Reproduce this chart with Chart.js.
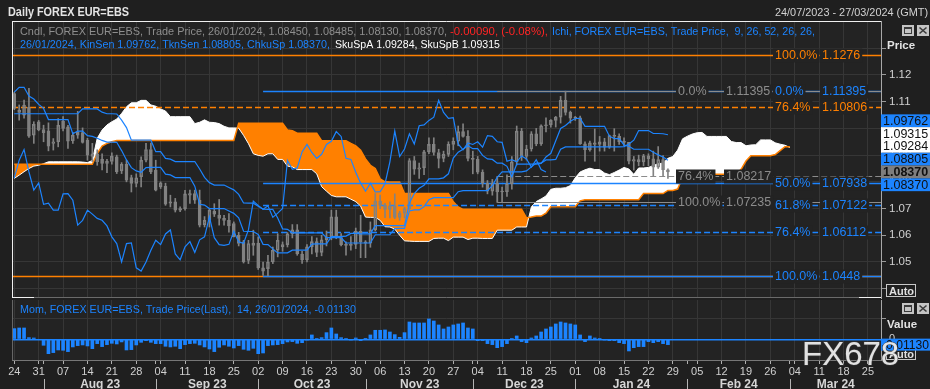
<!DOCTYPE html>
<html><head><meta charset="utf-8">
<script src="https://cdn.jsdelivr.net/npm/chart.js@4.4.1/dist/chart.umd.min.js"></script>
<style>
html,body{margin:0;padding:0;background:#1f1f1f;width:930px;height:389px;overflow:hidden}
#c1{position:absolute;left:0;top:0;width:930px;height:312px}
#c2{position:absolute;left:0;top:298px;width:930px;height:91px}
</style></head><body>
<canvas id="c1" width="930" height="312"></canvas>
<canvas id="c2" width="930" height="91"></canvas>
<script>
// ---------- DATA (trading-day index 0 = Mon 24/07/2023) ----------
const openP = [
1.1130,1.1060,1.1050,1.1079,1.0975,1.1025,1.0996,1.0991,1.0944,1.0950,
1.1027,1.1006,1.0954,1.0975,1.0984,1.0956,1.0895,1.0905,1.0885,1.0869,
1.0876,1.0894,1.0841,1.0866,1.0816,1.0794,1.0819,1.0881,1.0921,1.0844,
1.0781,1.0784,1.0725,1.0725,1.0700,1.0700,1.0750,1.0756,1.0731,1.0640,
1.0656,1.0690,1.0676,1.0663,1.0656,1.0644,1.0600,1.0575,1.0506,1.0562,
1.0571,1.0478,1.0475,1.0500,1.0544,1.0556,1.0565,1.0605,1.0620,1.0530,
1.0508,1.0557,1.0576,1.0536,1.0583,1.0594,1.0669,1.0591,1.0565,1.0562,
1.0566,1.0615,1.0575,1.0570,1.0620,1.0728,1.0712,1.0697,1.0710,1.0667,
1.0683,1.0700,1.0880,1.0847,1.0852,1.0912,1.0940,1.0910,1.0888,1.0903,
1.0940,1.0952,1.0988,1.0970,1.0888,1.0884,1.0836,1.0795,1.0765,1.0795,
1.0762,1.0763,1.0793,1.0875,1.0990,1.0895,1.0923,1.0980,1.0942,1.1010,
1.1013,1.1030,1.1042,1.1105,1.1060,1.1038,1.1040,1.0942,1.0920,1.0946,
1.0940,1.0950,1.0930,1.0973,1.0970,1.0950,1.0948,1.0877,1.0883,1.0875,
1.0897,1.0886,1.0855,1.0883,1.0845];
const highP = [
1.1135,1.1088,1.1106,1.1150,1.1025,1.1030,1.1012,1.1021,1.0962,1.1037,
1.1044,1.1012,1.0985,1.1064,1.1002,1.0963,1.0944,1.0920,1.0905,1.0884,
1.0909,1.0900,1.0872,1.0881,1.0825,1.0830,1.0894,1.0944,1.0945,1.0881,
1.0800,1.0795,1.0750,1.0738,1.0706,1.0768,1.0769,1.0769,1.0769,1.0670,
1.0700,1.0718,1.0734,1.0675,1.0681,1.0650,1.0611,1.0581,1.0581,1.0619,
1.0594,1.0500,1.0525,1.0556,1.0606,1.0575,1.0610,1.0640,1.0640,1.0540,
1.0565,1.0595,1.0590,1.0600,1.0616,1.0694,1.0694,1.0606,1.0575,1.0595,
1.0627,1.0675,1.0580,1.0650,1.0756,1.0750,1.0720,1.0725,1.0755,1.0690,
1.0705,1.0887,1.0895,1.0870,1.0918,1.0965,1.0965,1.0922,1.0915,1.0950,
1.0965,1.1009,1.1017,1.0992,1.0915,1.0895,1.0845,1.0805,1.0809,1.0820,
1.0780,1.0826,1.0895,1.1009,1.1000,1.0937,1.0988,1.1000,1.1013,1.1040,
1.1033,1.1045,1.1120,1.11395,1.1065,1.1045,1.1046,1.0950,1.0953,1.0998,
1.0970,1.0963,1.0975,1.0999,1.0980,1.0965,1.0948,1.0895,1.0900,1.0903,
1.0905,1.0915,1.0932,1.0898,1.08485];
const lowP = [
1.1070,1.1031,1.1038,1.0966,1.0944,1.0991,1.0950,1.0916,1.0919,1.0931,
1.0991,1.0925,1.0944,1.0963,1.0945,1.0881,1.0876,1.0862,1.0845,1.0834,
1.0866,1.0831,1.0831,1.0800,1.0762,1.0781,1.0781,1.0875,1.0831,1.0766,
1.0775,1.0712,1.0706,1.0687,1.0688,1.0694,1.0719,1.0719,1.0631,1.0631,
1.0631,1.0670,1.0638,1.0638,1.0612,1.0594,1.0560,1.0496,1.0494,1.0525,
1.0472,1.0450,1.0448,1.0494,1.0519,1.0540,1.0556,1.0590,1.0525,1.0495,
1.0500,1.0530,1.0520,1.0523,1.0560,1.0583,1.0587,1.0560,1.0525,1.0544,
1.0550,1.0516,1.0516,1.0555,1.0616,1.0700,1.0666,1.0665,1.0662,1.0656,
1.0665,1.0695,1.0828,1.0813,1.0827,1.0905,1.0900,1.0852,1.0875,1.0895,
1.0920,1.0935,1.0967,1.0878,1.0830,1.0830,1.0780,1.0755,1.0750,1.0723,
1.0725,1.0745,1.0773,1.0863,1.0880,1.0882,1.0915,1.0935,1.0936,1.0987,
1.1005,1.1005,1.1020,1.1050,1.1020,1.1030,1.0940,1.0877,1.0915,1.0877,
1.0915,1.0915,1.0925,1.0915,1.0940,1.0935,1.0867,1.0844,1.0860,1.0860,
1.0860,1.0822,1.0850,1.0821,1.0813];
const closeP = [
1.1075,1.1069,1.1087,1.0971,1.1015,1.0994,1.0984,1.0934,1.0950,1.1012,
1.1000,1.0952,1.0975,1.0985,1.0948,1.0900,1.0905,1.0875,1.0869,1.0878,
1.0896,1.0838,1.0866,1.0806,1.0794,1.0815,1.0881,1.0921,1.0837,1.0769,
1.0796,1.0716,1.0720,1.0694,1.0694,1.0755,1.0756,1.0731,1.0638,1.0656,
1.0694,1.0679,1.0663,1.0656,1.0635,1.0594,1.0569,1.0500,1.0569,1.0571,
1.0478,1.0466,1.0500,1.0544,1.0581,1.0565,1.0605,1.0620,1.0530,1.0508,
1.0557,1.0576,1.0536,1.0583,1.0594,1.0669,1.0591,1.0565,1.0562,1.0566,
1.0615,1.0575,1.0570,1.0620,1.0728,1.0712,1.0697,1.0710,1.0667,1.0683,
1.0700,1.0880,1.0847,1.0852,1.0912,1.0940,1.0910,1.0888,1.0903,1.0940,
1.0952,1.0988,1.0970,1.0888,1.0884,1.0836,1.0795,1.0765,1.0795,1.0762,
1.0763,1.0793,1.0875,1.0990,1.0895,1.0923,1.0980,1.0942,1.1010,1.1013,
1.1030,1.1042,1.1105,1.1060,1.1038,1.1040,1.0942,1.0920,1.0946,1.0940,
1.0950,1.0930,1.0973,1.0970,1.0950,1.0948,1.0877,1.0883,1.0875,1.0897,
1.0886,1.0855,1.0883,1.0846,1.0837];
const tenkanSen = [
1.1136,1.1154,1.1154,1.1121,1.1110,1.1090,1.1075,1.1033,1.1033,1.1033,
1.1033,1.1033,1.0980,1.0990,1.0990,1.0973,1.0970,1.0963,1.0955,1.0949,
1.0949,1.0948,1.0917,1.0882,1.0853,1.0841,1.0836,1.0853,1.0854,1.0854,
1.0854,1.0829,1.0826,1.0816,1.0816,1.0816,1.0816,1.0784,1.0716,1.0713,
1.0700,1.0700,1.0700,1.0700,1.0691,1.0682,1.0665,1.0615,1.0614,1.0614,
1.0603,1.0566,1.0565,1.0549,1.0534,1.0534,1.0534,1.0544,1.0544,1.0544,
1.0544,1.0567,1.0568,1.0568,1.0568,1.0595,1.0595,1.0595,1.0597,1.0607,
1.0607,1.0605,1.0605,1.0605,1.0636,1.0636,1.0636,1.0636,1.0636,1.0636,
1.0636,1.0721,1.0756,1.0776,1.0787,1.0811,1.0811,1.0811,1.0815,1.0830,
1.0889,1.0911,1.0922,1.0935,1.0924,1.0924,1.0899,1.0886,1.0884,1.0870,
1.0870,1.0858,1.0819,1.0866,1.0866,1.0866,1.0866,1.0866,1.0869,1.0893,
1.0907,1.0954,1.1000,1.1011,1.1027,1.1037,1.1038,1.1008,1.1008,1.1008,
1.1008,1.1008,1.0971,1.0962,1.0962,1.0938,1.0933,1.0922,1.0922,1.0922,
1.0922,1.0911,1.0901,1.0893,1.08805];
const kijunSen = [
1.1055,1.1055,1.1055,1.1055,1.1055,1.1055,1.1055,1.1055,1.1055,1.1055,
1.1055,1.1055,1.1055,1.1055,1.1073,1.1073,1.1073,1.1073,1.1061,1.1055,
1.1055,1.1054,1.1031,1.1003,1.0956,1.0956,1.0956,1.0956,1.0956,1.0913,
1.0913,1.0888,1.0885,1.0876,1.0876,1.0876,1.0876,1.0876,1.0848,1.0817,
1.0797,1.0788,1.0788,1.0788,1.0779,1.0770,1.0753,1.0721,1.0720,1.0720,
1.0709,1.0698,1.0697,1.0697,1.0665,1.0624,1.0622,1.0609,1.0609,1.0609,
1.0609,1.0609,1.0609,1.0609,1.0591,1.0591,1.0591,1.0591,1.0571,1.0571,
1.0571,1.0571,1.0571,1.0571,1.0602,1.0602,1.0602,1.0602,1.0625,1.0626,
1.0626,1.0691,1.0695,1.0695,1.0707,1.0733,1.0741,1.0741,1.0741,1.0741,
1.0741,1.0763,1.0767,1.0767,1.0767,1.0767,1.0767,1.0767,1.0786,1.0817,
1.0837,1.0837,1.0837,1.0837,1.0837,1.0841,1.0856,1.0870,1.0870,1.0882,
1.0882,1.0884,1.0922,1.0931,1.0931,1.0931,1.0931,1.0931,1.0931,1.0931,
1.0931,1.0931,1.0931,1.0931,1.0931,1.0932,1.0942,1.0956,1.0992,1.0992,
1.0992,1.0981,1.0981,1.0980,1.09762];
// Senkou spans, index = display position (26-day forward shift already applied)
const senkouA = [
1.0813,1.0825,1.0838,1.0850,1.0859,1.0862,1.0868,1.0875,1.0875,1.0875,
1.0875,1.0875,1.0875,1.0875,1.0874,1.0872,1.0880,1.0963,1.0994,1.1013,
1.1025,1.1035,1.1056,1.1081,1.1096,1.1096,1.1105,1.1105,1.1088,1.1083,
1.1073,1.1065,1.1044,1.1044,1.1044,1.1044,1.1044,1.1018,1.1023,1.1032,
1.1023,1.1022,1.1018,1.1008,1.1002,1.1002,1.1001,1.0974,1.0943,1.0905,
1.0899,1.0896,1.0905,1.0905,1.0884,1.0884,1.0859,1.0856,1.0846,1.0846,
1.0846,1.0846,1.0830,1.0782,1.0765,1.0749,1.0744,1.0744,1.0744,1.0735,
1.0726,1.0709,1.0668,1.0667,1.0667,1.0656,1.0632,1.0631,1.0623,1.0600,
1.0579,1.0578,1.0577,1.0577,1.0577,1.0577,1.0588,1.0589,1.0589,1.0580,
1.0593,1.0593,1.0593,1.0584,1.0589,1.0589,1.0588,1.0588,1.0588,1.0619,
1.0619,1.0619,1.0619,1.0631,1.0631,1.0631,1.0706,1.0726,1.0736,1.0747,
1.0772,1.0776,1.0776,1.0778,1.0786,1.0815,1.0837,1.0845,1.0851,1.0846,
1.0846,1.0833,1.0827,1.0835,1.0844,1.0854,1.0848,1.0828,1.0852,1.0852,
1.0854,1.0861,1.0868,1.0870,1.0888,1.0895,1.0919,1.0961,1.0971,1.0979,
1.0984,1.0985,1.0970,1.0970,1.0970,1.0970,1.0970,1.0951,1.0947,1.0947,
1.0935,1.0938,1.0939,1.0957,1.0957,1.0957,1.0946,1.0941,1.0937,1.09284];
const senkouB = [
1.0866,1.0866,1.0866,1.0866,1.0866,1.0866,1.0866,1.0866,1.0866,1.0866,
1.0866,1.0866,1.0866,1.0866,1.0866,1.0866,1.0866,1.0906,1.0934,1.0944,
1.0950,1.0955,1.0955,1.0955,1.0955,1.0955,1.0955,1.0955,1.0955,1.0955,
1.0955,1.0955,1.0955,1.0955,1.0955,1.0955,1.0955,1.0955,1.0955,1.0955,
1.0955,1.0955,1.0955,1.0955,1.0955,1.0955,1.1019,1.1019,1.1019,1.1019,
1.1019,1.1019,1.1019,1.1019,1.1019,1.1019,1.0994,1.0991,1.0982,1.0982,
1.0982,1.0982,1.0982,1.0954,1.0954,1.0954,1.0954,1.0954,1.0954,1.0944,
1.0935,1.0918,1.0886,1.0862,1.0850,1.0811,1.0800,1.0799,1.0799,1.0799,
1.0756,1.0756,1.0756,1.0756,1.0756,1.0756,1.0756,1.0756,1.0756,1.0756,
1.0725,1.0706,1.0697,1.0697,1.0697,1.0697,1.0697,1.0697,1.0697,1.0697,
1.0697,1.0697,1.0697,1.0697,1.0697,1.0665,1.0668,1.0672,1.0672,1.0683,
1.0707,1.0707,1.0707,1.0707,1.0707,1.0707,1.0729,1.0733,1.0733,1.0733,
1.0733,1.0733,1.0733,1.0733,1.0733,1.0733,1.0733,1.0733,1.0733,1.0756,
1.0756,1.0756,1.0756,1.0756,1.0768,1.0768,1.0773,1.0818,1.0828,1.0828,
1.0828,1.0828,1.0828,1.0828,1.0828,1.0828,1.0828,1.0828,1.0828,1.0847,
1.0878,1.0898,1.0898,1.0898,1.0898,1.0898,1.0902,1.0917,1.09315,1.09315];
const momentum14 = [
0.0226,0.0240,0.0240,0.0035,0.0028,0.0000,-0.0127,-0.0304,-0.0282,-0.0226,
-0.0233,-0.0261,-0.0162,-0.0134,-0.0120,-0.0141,-0.0198,-0.0092,-0.0155,-0.0113,
-0.0085,-0.0099,-0.0056,-0.0226,-0.0219,-0.0120,-0.0064,-0.0028,-0.0064,-0.0092,
-0.0092,-0.0148,-0.0162,-0.0148,-0.0198,-0.0113,-0.0092,-0.0085,-0.0120,-0.0162,
-0.0205,-0.0261,-0.0169,-0.0120,-0.0148,-0.0184,-0.0134,-0.0212,-0.0233,-0.0191,
-0.0304,-0.0290,-0.0134,-0.0120,-0.0113,-0.0092,-0.0056,-0.0049,-0.0085,-0.0071,
-0.0003,0.0092,0.0004,0.0035,0.0141,0.0240,0.0113,0.0035,0.0002,-0.0002,
0.0028,-0.0028,0.0021,0.0092,0.0191,0.0191,0.0198,0.0155,0.0099,0.0042,
0.0141,0.0367,0.0346,0.0346,0.0346,0.0431,0.0388,0.0304,0.0219,0.0261,
0.0304,0.0325,0.0346,0.0240,0.0219,-0.0028,-0.0028,-0.0092,-0.0113,-0.0177,
-0.0155,-0.0092,0.0003,0.0071,-0.0049,-0.0071,0.0028,0.0071,0.0155,0.0219,
0.0261,0.0325,0.0367,0.0346,0.0325,0.0304,0.0092,-0.0049,0.0071,0.0028,
0.0003,-0.0002,-0.0028,-0.0028,-0.0071,-0.0092,-0.0247,-0.0177,-0.0155,-0.0155,
-0.0049,-0.0071,-0.0049,-0.0092,-0.0113];
const chikouShift = 25;
// Fibonacci retracements
const orangeFibPct = ['100.0%','76.4%','0.0%'];
const orangeFibVal = [1.1276, 1.10806, 1.0448];
const blueFibPct = ['0.0%','50.0%','61.8%','76.4%','100.0%'];
const blueFibVal = [1.11395, 1.07938, 1.07122, 1.06112, 1.0448];
const blueFibStart = 51;
const grayFibPct = ['0.0%','76.4%','100.0%'];
const grayFibVal = [1.11395, 1.08217, 1.07235];
const grayFibStart = 99;
// axis labels
const priceTicks = [1.04,1.05,1.06,1.07,1.08,1.09,1.10,1.11,1.12,1.13];
const priceTickLabels = ['','1.05','1.06','1.07','1.08','1.09','1.10','1.11','1.12',''];
const momTicks = [0, 0.045];
const momTickLabels = ['0',''];
const dayTickLabels = ['24','31','07','14','21','28','04','11','18','25','02','09','16','23','30','06','13','20','27','04','11','18','25','01','08','15','22','29','05','12','19','26','04','11','18','25'];
const monthLabels = ['Aug 23','Sep 23','Oct 23','Nov 23','Dec 23','Jan 24','Feb 24','Mar 24'];
const monthStartDay = [6, 29, 50, 72, 94, 115, 138, 159];
const lastDate = '26/01/2024';

// ---------- STYLE ----------
const PAGE_BG = '#1f1f1f', PLOT_BG = '#232323', GRID = '#363636';
const BLUE = '#1c84ff', ORANGE = '#ff8000', CANDLE = '#828282', FIBGRAY = '#8c8c8c';
const FONT = '"Liberation Sans", Arial, sans-serif';
Chart.defaults.font.family = FONT;
const xMin = -0.4715, xMax = 177.68;
const yMin = 1.036511, yMax = 1.140217;
const momMin = -0.04386, momMax = 0.08326;
const mondayIdx = dayTickLabels.map((_, w) => w * 5);
const dateTickIdx = mondayIdx.concat(monthStartDay.filter(d => d % 5 !== 0)).sort((a, b) => a - b);
const N = closeP.length;
const last = N - 1;

function pts(arr, off) { return arr.map((v, i) => ({x: i + (off || 0), y: v})); }
function txt(ctx, s, x, y, color, font, maxW, align) {
  ctx.font = font; ctx.fillStyle = color; ctx.textAlign = align || 'left'; ctx.textBaseline = 'alphabetic';
  if (maxW) ctx.fillText(s, x, y, maxW); else ctx.fillText(s, x, y);
}
function icon(ctx, x, y, kind) {
  ctx.save();
  ctx.fillStyle = '#c4c4c4'; ctx.fillRect(x, y, 12, 11);
  ctx.strokeStyle = '#3a3a3a'; ctx.lineWidth = 1;
  if (kind === 'max') {
    ctx.strokeRect(x + 2.5, y + 2.5, 7, 6); ctx.fillStyle = '#3a3a3a'; ctx.fillRect(x + 2, y + 2, 8, 2);
  } else {
    ctx.lineWidth = 1.6; ctx.beginPath();
    ctx.moveTo(x + 2.5, y + 2.5); ctx.lineTo(x + 9.5, y + 8.5); ctx.moveTo(x + 9.5, y + 2.5); ctx.lineTo(x + 2.5, y + 8.5); ctx.stroke();
  }
  ctx.restore();
}
function autoBtn(ctx, x, y) {
  ctx.save(); ctx.strokeStyle = '#c8c8c8'; ctx.lineWidth = 1; ctx.strokeRect(x + 0.5, y + 0.5, 29, 12);
  txt(ctx, 'Auto', x + 3, y + 10.5, '#e0e0e0', 'bold 11px ' + FONT); ctx.restore();
}

const bgPlugin = {
  id: 'plotbg',
  beforeDraw(chart) {
    const {ctx, chartArea: a} = chart;
    ctx.save(); ctx.fillStyle = PLOT_BG; ctx.fillRect(a.left, a.top, a.right - a.left, a.bottom - a.top); ctx.restore();
  }
};

const fibSets = [
  {pcts: orangeFibPct, vals: orangeFibVal, start: null, color: ORANGE, w: 1.5, lx: 775, vx: 822},
  {pcts: blueFibPct, vals: blueFibVal, start: blueFibStart, color: BLUE, w: 1.5, lx: 775, vx: 822},
  {pcts: grayFibPct, vals: grayFibVal, start: grayFibStart, color: FIBGRAY, w: 1.2, lx: 678, vx: 726}
];
const isDashed = p => p === '61.8%' || p === '76.4%';

const fibLinePlugin = {
  id: 'fiblines',
  afterDatasetDraw(chart, args) {
    if (args.index !== 1) return;
    const {ctx, chartArea: a, scales: {x, y}} = chart;
    ctx.save();
    ctx.beginPath(); ctx.rect(a.left, a.top, a.right - a.left, a.bottom - a.top); ctx.clip();
    fibSets.forEach(set => {
      const x0 = set.start === null ? a.left : x.getPixelForValue(set.start);
      set.vals.forEach((v, i) => {
        const py = Math.round(y.getPixelForValue(v)) + 0.5;
        ctx.strokeStyle = set.color; ctx.lineWidth = set.w;
        ctx.setLineDash(isDashed(set.pcts[i]) ? [6, 3] : []);
        ctx.beginPath(); ctx.moveTo(x0, py); ctx.lineTo(a.right, py); ctx.stroke();
      });
      if (set.start !== null && set.color === FIBGRAY) {
        ctx.setLineDash([]);
        const px = Math.round(x0) + 0.5;
        ctx.beginPath(); ctx.moveTo(px, y.getPixelForValue(set.vals[1])); ctx.lineTo(px, y.getPixelForValue(set.vals[2])); ctx.stroke();
      }
    });
    ctx.restore();
  }
};

function fibLabel(ctx, s, x, py, color) {
  ctx.font = '12.5px ' + FONT;
  const w = ctx.measureText(s).width;
  ctx.fillStyle = PLOT_BG; ctx.fillRect(x - 2, py - 7, w + 4, 14);
  ctx.fillStyle = color; ctx.textAlign = 'left'; ctx.textBaseline = 'middle';
  ctx.fillText(s, x, py + 0.5);
  return w;
}

const priceDecor = {
  id: 'pricedecor',
  afterDraw(chart) {
    const {ctx, chartArea: a, scales: {y}} = chart;
    ctx.save();
    // panel frame
    ctx.lineWidth = 1;
    ctx.strokeStyle = '#6a6a6a'; ctx.beginPath(); ctx.moveTo(a.left, a.bottom - 0.5); ctx.lineTo(a.right, a.bottom - 0.5); ctx.stroke();
    ctx.strokeStyle = '#f0f0f0';
    ctx.beginPath(); ctx.moveTo(a.left, a.top + 0.5); ctx.lineTo(a.right, a.top + 0.5);
    ctx.moveTo(a.left + 0.5, a.top); ctx.lineTo(a.left + 0.5, a.bottom);
    ctx.moveTo(a.left, a.bottom - 0.5); ctx.lineTo(a.left + 22, a.bottom - 0.5);
    ctx.moveTo(a.right - 22, a.bottom - 0.5); ctx.lineTo(a.right, a.bottom - 0.5);
    ctx.stroke();
    // fib labels
    fibSets.forEach(set => {
      set.vals.forEach((v, i) => {
        if (set.color === ORANGE && set.pcts[i] === '0.0%') return;
        const py = Math.round(y.getPixelForValue(v)) + 0.5;
        const w = fibLabel(ctx, set.pcts[i], set.lx, py, set.color);
        fibLabel(ctx, String(v), Math.max(set.vx, set.lx + w + 3), py, set.color);
      });
    });
    // title + legend
    txt(ctx, 'Daily FOREX EUR=EBS', 8, 16, '#e4e4e4', 'bold 12px ' + FONT, 121);
    txt(ctx, '24/07/2023 - 27/03/2024 (GMT)', 928, 16, '#d2d2d2', '11.5px ' + FONT, 153, 'right');
    const ohlc = [openP[last], highP[last], lowP[last], closeP[last]].map(v => v.toFixed(5)).join(', ');
    const chg = closeP[last] - closeP[last - 1];
    const pct = chg / closeP[last - 1] * 100;
    txt(ctx, 'Cndl, FOREX EUR=EBS, Trade Price, ' + lastDate + ', ' + ohlc + ',', 20, 35, '#8e8e8e', '11.5px ' + FONT, 427);
    txt(ctx, chg.toFixed(5) + ', (' + pct.toFixed(2) + '%),', 450, 35, '#ff2424', '11.5px ' + FONT, 98);
    txt(ctx, 'Ichi, FOREX EUR=EBS, Trade Price,  9, 26, 52, 26, 26,', 552, 35, BLUE, '11.5px ' + FONT, 263);
    txt(ctx, lastDate + ', KinSen ' + kijunSen[last].toFixed(5) + ', TknSen ' + tenkanSen[last].toFixed(5) + ', ChkuSp ' + closeP[last].toFixed(5) + ',', 20, 48, BLUE, '11.5px ' + FONT, 310);
    txt(ctx, 'SkuSpA ' + senkouA[senkouA.length - 1].toFixed(5) + ', SkuSpB ' + senkouB[senkouB.length - 1].toFixed(5), 335, 48, '#ffffff', '11.5px ' + FONT, 165);
    // right panel
    txt(ctx, 'Price', 887, 49, '#e2e2e2', 'bold 11.5px ' + FONT);
    icon(ctx, 902, 25, 'max'); icon(ctx, 917, 25, 'close');
    autoBtn(ctx, 886, 284);
    // value boxes on price axis
    const boxes = [
      {v: kijunSen[last], bg: BLUE},
      {v: senkouB[senkouB.length - 1], bg: '#ffffff'},
      {v: senkouA[senkouA.length - 1], bg: '#ffffff'},
      {v: tenkanSen[last], bg: BLUE},
      {v: closeP[last], bg: '#7e7e7e', bold: true, anchor: true},
      {v: closeP[last], bg: BLUE}
    ];
    boxes.sort((p, q) => q.v - p.v);
    const H = 12.8;
    boxes.forEach(b => b.py = y.getPixelForValue(b.v));
    const ai = boxes.findIndex(b => b.anchor);
    for (let i = ai - 1; i >= 0; i--) boxes[i].py = Math.min(boxes[i].py, boxes[i + 1].py - H);
    for (let i = ai + 1; i < boxes.length; i++) boxes[i].py = Math.max(boxes[i].py, boxes[i - 1].py + H);
    boxes.forEach(b => {
      ctx.fillStyle = b.bg; ctx.fillRect(881, b.py - H / 2, 49, H);
      ctx.fillStyle = '#101010'; ctx.font = (b.bold ? 'bold ' : '') + '12.5px ' + FONT;
      ctx.textAlign = 'left'; ctx.textBaseline = 'middle';
      ctx.fillText(b.v.toFixed(5), 883, b.py + 0.5, 46);
    });
    ctx.restore();
  }
};

const bodyData = closeP.map((c, i) => ({x: i, y: [openP[i], c]}));
const upperWick = closeP.map((c, i) => ({x: i, y: [Math.max(openP[i], c), highP[i]]}));
const lowerWick = closeP.map((c, i) => ({x: i, y: [lowP[i], Math.min(openP[i], c)]}));
const isUp = i => closeP[i] >= openP[i];

new Chart(document.getElementById('c1'), {
  type: 'bar',
  data: {
    datasets: [
      {type: 'line', data: pts(senkouA), borderColor: '#ffffff', borderWidth: 1, pointRadius: 0, tension: 0,
       fill: {target: 1, above: '#ffffff', below: ORANGE}, order: 10},
      {type: 'line', data: pts(senkouB), borderColor: ORANGE, borderWidth: 1.5, pointRadius: 0, tension: 0, fill: false, order: 9},
      {type: 'bar', data: lowerWick, backgroundColor: CANDLE, barThickness: 1, grouped: false, borderWidth: 0, order: 8},
      {type: 'bar', data: upperWick, backgroundColor: CANDLE, barThickness: 1, grouped: false, borderWidth: 0, order: 7},
      {type: 'bar', data: bodyData, barThickness: 3, grouped: false, minBarLength: 1, borderSkipped: false,
       backgroundColor: c => isUp(c.dataIndex) ? 'rgba(0,0,0,0)' : CANDLE, borderColor: CANDLE, borderWidth: 1, order: 6},
      {type: 'line', data: pts(closeP.slice(chikouShift)), borderColor: BLUE, borderWidth: 1.2, pointRadius: 0, tension: 0, fill: false, order: 3},
      {type: 'line', data: pts(kijunSen), borderColor: BLUE, borderWidth: 1.2, pointRadius: 0, tension: 0, fill: false, order: 2},
      {type: 'line', data: pts(tenkanSen), borderColor: BLUE, borderWidth: 1.2, pointRadius: 0, tension: 0, fill: false, order: 1}
    ]
  },
  options: {
    responsive: false, animation: false, events: [], devicePixelRatio: 1,
    layout: {padding: {left: 12, top: 21, right: 0, bottom: 14}},
    plugins: {legend: {display: false}, tooltip: {enabled: false}},
    scales: {
      x: {type: 'linear', min: xMin, max: xMax, offset: false,
          grid: {color: GRID, drawTicks: false, offset: false}, border: {display: false},
          ticks: {display: false},
          afterBuildTicks(s) { s.ticks = mondayIdx.map(v => ({value: v})); },
          afterFit(s) { s.height = 0; s.paddingLeft = 0; s.paddingRight = 0; }},
      y: {type: 'linear', position: 'right', min: yMin, max: yMax,
          grid: {color: GRID, tickColor: '#9a9a9a', tickLength: 5},
          border: {display: true, color: '#a8a8a8'},
          ticks: {color: '#d0d0d0', font: {size: 11.5}, padding: 3, autoSkip: false,
                  callback: (v, i) => priceTickLabels[i]},
          afterBuildTicks(s) { s.ticks = priceTicks.map(v => ({value: v})); },
          afterFit(s) { s.width = 49; s.paddingTop = 0; s.paddingBottom = 0; }}
    }
  },
  plugins: [bgPlugin, fibLinePlugin, priceDecor]
});

const momDecor = {
  id: 'momdecor',
  afterDraw(chart) {
    const {ctx, chartArea: a, scales: {x, y}} = chart;
    ctx.save();
    ctx.strokeStyle = '#666'; ctx.lineWidth = 1;
    ctx.beginPath(); ctx.moveTo(a.left + 0.5, a.top); ctx.lineTo(a.left + 0.5, a.bottom); ctx.stroke();
    txt(ctx, 'Mom, FOREX EUR=EBS, Trade Price(Last),  14, ' + lastDate + ', ' + momentum14[last].toFixed(5), 20, 15, BLUE, '11.5px ' + FONT, 336);
    txt(ctx, 'Value', 887, 30, '#e2e2e2', 'bold 11.5px ' + FONT);
    icon(ctx, 902, 5, 'max'); icon(ctx, 917, 5, 'close');
    autoBtn(ctx, 886, 49);
    const py = y.getPixelForValue(momentum14[last]);
    ctx.fillStyle = BLUE; ctx.fillRect(881, py - 6, 49, 12);
    ctx.fillStyle = '#101010'; ctx.font = '12.5px ' + FONT; ctx.textBaseline = 'middle'; ctx.textAlign = 'left';
    ctx.fillText(momentum14[last].toFixed(5), 882, py + 0.5, 47);
    // months
    ctx.strokeStyle = '#b4b4b4'; ctx.lineWidth = 1;
    monthStartDay.forEach((d, m) => {
      const px = Math.round(x.getPixelForValue(d)) + 0.5;
      ctx.beginPath(); ctx.moveTo(px, 81); ctx.lineTo(px, 91); ctx.stroke();
      const nx = m + 1 < monthStartDay.length ? x.getPixelForValue(monthStartDay[m + 1]) : a.right;
      txt(ctx, monthLabels[m], (px + nx) / 2, 90, '#d6d6d6', 'bold 12px ' + FONT, null, 'center');
    });
    // watermark
    ctx.font = '33px ' + FONT; ctx.textAlign = 'left'; ctx.textBaseline = 'alphabetic';
    ctx.lineWidth = 1.2; ctx.strokeStyle = 'rgba(60,60,60,0.9)';
    ctx.strokeText('FX678', 802, 67);
    ctx.fillStyle = 'rgba(236,236,236,0.95)'; ctx.fillText('FX678', 802, 67);
    ctx.restore();
  }
};

new Chart(document.getElementById('c2'), {
  type: 'bar',
  data: {
    datasets: [
      {type: 'bar', data: pts(momentum14), backgroundColor: BLUE, barThickness: 3, grouped: false, borderWidth: 0}
    ]
  },
  options: {
    responsive: false, animation: false, events: [], devicePixelRatio: 1,
    layout: {padding: {left: 12, top: 2, right: 0, bottom: 0}},
    plugins: {legend: {display: false}, tooltip: {enabled: false}},
    scales: {
      x: {type: 'linear', min: xMin, max: xMax, offset: false, position: 'bottom',
          grid: {color: c => (c.tick && c.tick.value % 5 === 0) ? GRID : 'rgba(0,0,0,0)', tickColor: '#b0b0b0', tickLength: 4, offset: false},
          border: {display: true, color: '#777'},
          ticks: {color: '#d0d0d0', font: {size: 11}, padding: 1, maxRotation: 0, autoSkip: false,
                  callback: v => (v % 5 === 0 ? dayTickLabels[v / 5] : '')},
          afterBuildTicks(s) { s.ticks = dateTickIdx.map(v => ({value: v})); },
          afterFit(s) { s.height = 29; s.paddingLeft = 0; s.paddingRight = 0; }},
      y: {type: 'linear', position: 'right', min: momMin, max: momMax,
          grid: {color: c => (c.tick && c.tick.value === 0) ? BLUE : GRID, lineWidth: c => (c.tick && c.tick.value === 0) ? 1.5 : 1,
                 tickColor: '#9a9a9a', tickLength: 5},
          border: {display: true, color: '#a8a8a8'},
          ticks: {color: '#d0d0d0', font: {size: 11}, padding: 3, autoSkip: false, callback: (v, i) => momTickLabels[i]},
          afterBuildTicks(s) { s.ticks = momTicks.map(v => ({value: v})); },
          afterFit(s) { s.width = 49; s.paddingTop = 0; s.paddingBottom = 0; }}
    }
  },
  plugins: [bgPlugin, momDecor]
});
</script>
</body></html>
